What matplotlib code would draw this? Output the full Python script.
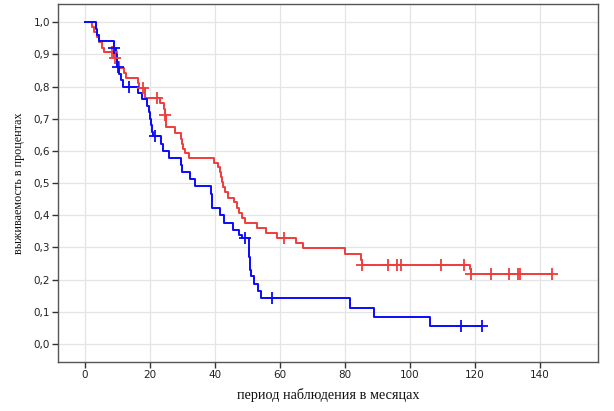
import numpy as np
import matplotlib
matplotlib.use('Agg')
import matplotlib.pyplot as plt

# blue group: event times and survival after each step
blue_t = [0, 3.4, 3.8, 4.2, 9.0, 9.5, 9.8, 10.0, 10.6, 11.0, 11.8, 16.3, 17.5,
          19.2, 19.7, 20.1, 20.3, 20.6, 21.0, 23.5, 24.0, 26.0, 29.5, 30.0, 32.4,
          34.0, 38.7, 39.0, 39.2, 41.7, 42.9, 45.6, 47.3, 48.3, 50.4, 50.5, 50.6,
          50.7, 50.8, 51.0, 51.9, 53.2, 54.2, 81.5, 88.9, 106.2]
blue_s = [1.0, 0.98, 0.96, 0.94, 0.92, 0.90, 0.88, 0.86, 0.84, 0.82, 0.80, 0.78, 0.76,
          0.74, 0.72, 0.70, 0.68, 0.66, 0.645, 0.622, 0.60, 0.578, 0.556, 0.534, 0.512,
          0.49, 0.467, 0.445, 0.423, 0.40, 0.376, 0.353, 0.338, 0.33, 0.31, 0.29, 0.27,
          0.25, 0.23, 0.211, 0.187, 0.165, 0.143, 0.113, 0.085, 0.056]
blue_cens = [9.0, 10.2, 13.6, 21.7, 49.3, 57.5, 115.7, 122.3]
blue_end = 122.3

# red group
red_t = [0, 2.2, 2.8, 3.6, 4.3, 5.1, 5.8, 9.0, 9.8, 10.5, 12.0, 12.5, 16.4, 16.6,
         18.6, 23.0, 24.2, 24.5, 24.8, 25.0, 27.8, 29.7, 30.0, 30.3, 30.7, 31.9,
         39.8, 41.0, 41.5, 41.9, 42.2, 42.6, 43.2, 44.0, 46.0, 46.8, 47.5, 48.2,
         49.2, 52.8, 55.8, 59.0, 64.8, 67.0, 80.0, 85.0, 85.3, 118.4, 118.8]
red_s = [1.0, 0.984, 0.969, 0.953, 0.937, 0.92, 0.906, 0.89, 0.875, 0.857, 0.843, 0.827,
         0.811, 0.796, 0.765, 0.748, 0.73, 0.71, 0.69, 0.674, 0.655, 0.636, 0.62, 0.607,
         0.593, 0.578, 0.563, 0.549, 0.535, 0.52, 0.503, 0.487, 0.471, 0.455, 0.44,
         0.423, 0.406, 0.392, 0.376, 0.36, 0.345, 0.329, 0.313, 0.297, 0.279, 0.262,
         0.246, 0.232, 0.217]
red_cens = [8.3, 9.3, 18.0, 22.3, 24.5, 61.2, 85.4, 93.4, 95.9, 97.2, 109.7, 116.7,
            118.9, 124.9, 130.4, 133.3, 133.9, 143.6]
red_end = 143.6

x_ticks = [0, 20, 40, 60, 80, 100, 120, 140]
y_ticks = [0.0, 0.1, 0.2, 0.3, 0.4, 0.5, 0.6, 0.7, 0.8, 0.9, 1.0]


def surv_at(times, surv, t):
    i = np.searchsorted(times, t, side='right') - 1
    return np.asarray(surv)[i]


def draw_curve(ax, times, surv, cens, end, color):
    t = list(times) + [end]
    s = list(surv) + [surv[-1]]
    ax.step(t, s, where='post', color=color, linewidth=1.4, zorder=3)
    cy = [surv_at(times, surv, c) for c in cens]
    ax.plot(cens, cy, linestyle='None', marker='+', markersize=8,
            markeredgewidth=1.3, color=color, zorder=4)


fig = plt.figure(figsize=(6.14, 4.11), dpi=100)
ax = fig.add_axes([0.095, 0.12, 0.8785, 0.870])

draw_curve(ax, red_t, red_s, red_cens, red_end, '#f03c3c')
draw_curve(ax, blue_t, blue_s, blue_cens, blue_end, '#0a0aff')

ax.set_xlim(-8.2, 157.8)
ax.set_ylim(-0.055, 1.056)
ax.set_xticks(x_ticks)
ax.set_yticks(y_ticks)
ax.set_yticklabels([('%.1f' % v).replace('.', ',') for v in y_ticks])
ax.grid(True, color='#e4e4e4', linewidth=0.9, zorder=0)
ax.set_axisbelow(True)
ax.tick_params(direction='out', length=4, width=1, color='#333333',
               labelsize=7.5, labelcolor='#222222', pad=2)
for sp in ax.spines.values():
    sp.set_color('#555555')
    sp.set_linewidth(1.0)

ax.set_xlabel('период наблюдения в месяцах', family='Liberation Serif',
              fontsize=10.3, color='#111111')
ax.set_ylabel('выживаемость в процентах', family='Liberation Serif',
              fontsize=8.7, color='#111111')
ax.xaxis.set_label_coords(0.5, -0.074)
ax.yaxis.set_label_coords(-0.062, 0.5)

fig.savefig('out.png', dpi=100)
